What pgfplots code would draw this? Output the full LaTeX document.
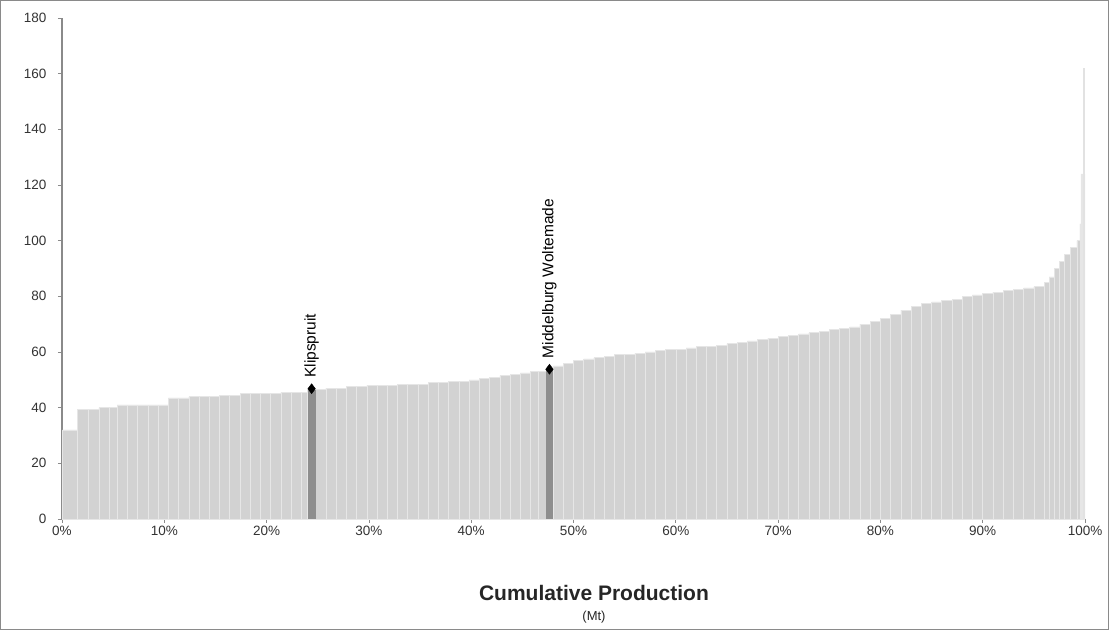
\documentclass[border=0pt]{standalone}
\usepackage{pgfplots}
\pgfplotsset{compat=1.18}
\usepackage{fontspec}
\setmainfont{Liberation Sans}
\definecolor{barcol}{HTML}{D2D2D2}
\definecolor{gapcol}{HTML}{E6E6E6}
\definecolor{darkbar}{HTML}{8E8E8E}
\definecolor{axcol}{HTML}{8A8A8A}
\begin{document}
\begin{tikzpicture}
\begin{axis}[
  scale only axis, width=1023pt, height=501pt,
  xmin=0, xmax=100, ymin=0, ymax=180,
  axis lines=left, axis line style={-, axcol, line width=1pt},
  xtick={0,10,...,100}, ytick={0,20,...,180},
  xticklabel={\pgfmathprintnumber{\tick}\%},
  /pgf/number format/assume math mode=true,
  tick align=outside, major tick length=4pt,
  tick style={axcol, line width=0.8pt},
  tick label style={font=\fontsize{13.5}{15}\selectfont, text=black!80},
  yticklabel style={xshift=-8pt},
  clip=false,
]
\addplot[ybar interval, fill=barcol, draw=gapcol, line width=0.6pt] coordinates {
(0,32) (1.5,39.5) (2.6,39.5) (3.6,40) (4.6,40) (5.4,41) (6.4,41) (7.4,41) (8.4,41) (9.4,41)
(10.4,43.5) (11.4,43.5) (12.4,44) (13.4,44) (14.4,44) (15.4,44.5) (16.4,44.5) (17.4,45) (18.4,45) (19.4,45)
(20.4,45) (21.4,45.5) (22.4,45.5) (23.4,45.5) (24.0,46.5) (24.8,46.5) (25.8,47) (26.8,47) (27.8,47.5) (28.8,47.5)
(29.8,48) (30.8,48) (31.8,48) (32.8,48.5) (33.8,48.5) (34.8,48.5) (35.8,49) (36.8,49) (37.8,49.5) (38.8,49.5)
(39.8,50) (40.8,50.5) (41.8,51) (42.8,51.5) (43.8,52) (44.8,52.5) (45.8,53) (46.6,53) (47.3,53.5) (48.0,55)
(49,56) (50,57) (51,57.5) (52,58) (53,58.5) (54,59) (55,59) (56,59.5) (57,60) (58,60.5)
(59,61) (60,61) (61,61.5) (62,62) (63,62) (64,62.5) (65,63) (66,63.5) (67,64) (68,64.5)
(69,65) (70,65.5) (71,66) (72,66.5) (73,67) (74,67.5) (75,68) (76,68.5) (77,69) (78,70)
(79,71) (80,72) (81,73.5) (82,75) (83,76.5) (84,77.5) (85,78) (86,78.5) (87,79) (88,80)
(89,80.5) (90,81) (91,81.5) (92,82) (93,82.5) (94,83) (95,83.5) (96,85) (96.5,87) (97,90)
(97.5,92.5) (98,95) (98.6,97.5) (99.2,100) (99.5,106) (99.85,0) (100,0)
};
\addplot[ybar interval, fill=gapcol, draw=none] coordinates {(99.6,124) (99.85,124) (100,0)};
\addplot[ybar interval, fill=gapcol!80!barcol, draw=none] coordinates {(99.8,162) (99.95,0)};
\addplot[ybar interval, fill=darkbar, draw=none] coordinates {(24.0,46.5) (24.8,0)};
\addplot[ybar interval, fill=darkbar, draw=none] coordinates {(47.3,53.5) (48.0,0)};
\addplot[only marks, mark=diamond*, mark size=5pt, black] coordinates {(24.4,46.8) (47.65,53.8)};
\node[rotate=90, anchor=west, font=\fontsize{15.5}{17}\selectfont] at (axis cs:24.4,49.5) {Klipspruit};
\node[rotate=90, anchor=west, font=\fontsize{15.5}{17}\selectfont] at (axis cs:47.65,56.5) {Middelburg Woltemade};
\node[font=\fontsize{21}{24}\selectfont\bfseries, text=black!85] at ([yshift=-74pt]rel axis cs:0.52,0) {Cumulative Production};
\node[font=\fontsize{13}{15}\selectfont, text=black!85] at ([yshift=-98pt]rel axis cs:0.52,0) {(Mt)};
\draw[axcol, line width=1pt] ([xshift=-61.5pt,yshift=-110.5pt]rel axis cs:0,0) rectangle ([xshift=23.5pt,yshift=17.5pt]rel axis cs:1,1);
\end{axis}
\end{tikzpicture}
\end{document}
